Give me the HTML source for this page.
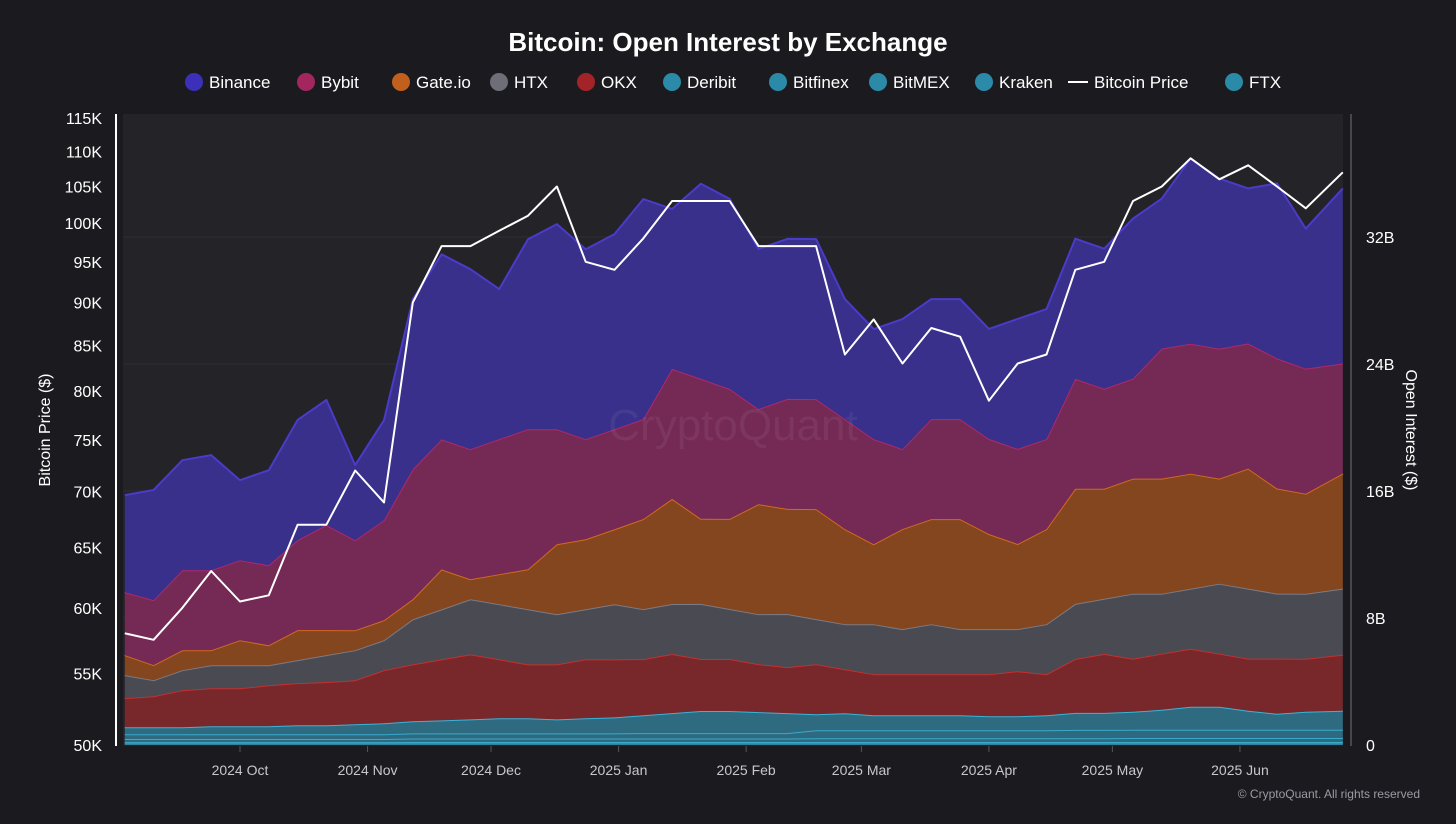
<!DOCTYPE html>
<html><head><meta charset="utf-8"><style>
html,body{margin:0;padding:0;background:#1b1b1f;}
body{width:1456px;height:819px;overflow:hidden;font-family:"Liberation Sans",sans-serif;}
svg text{font-family:"Liberation Sans",sans-serif;}
</style></head><body>
<svg id="chart" width="1456" height="819" viewBox="0 0 1456 819" xmlns="http://www.w3.org/2000/svg">
<rect width="1456" height="819" fill="#1b1b1f"/>
<text x="728" y="51" text-anchor="middle" fill="#fff" font-size="26" font-weight="bold">Bitcoin: Open Interest by Exchange</text>
<g id="legend"></g>
<rect x="123" y="114" width="1220" height="632" fill="#232328"/>
<g id="grid"></g>
<g id="areas"></g>
<g id="price"></g>
<g id="axes"></g>
<text x="733" y="440" text-anchor="middle" fill="#ffffff" fill-opacity="0.06" font-size="44">CryptoQuant</text>
<text transform="translate(50,430) rotate(-90)" text-anchor="middle" fill="#fff" font-size="16">Bitcoin Price ($)</text>
<text transform="translate(1406,430) rotate(90)" text-anchor="middle" fill="#fff" font-size="16">Open Interest ($)</text>
<text x="1420" y="798" text-anchor="end" fill="#9a9aa2" font-size="12">© CryptoQuant. All rights reserved</text>
</svg>
<script>
const dates=["2024-09-03","2024-09-10","2024-09-17","2024-09-24","2024-10-01","2024-10-08","2024-10-15","2024-10-22","2024-10-29","2024-11-05","2024-11-12","2024-11-19","2024-11-26","2024-12-03","2024-12-10","2024-12-17","2024-12-24","2024-12-31","2025-01-07","2025-01-14","2025-01-21","2025-01-28","2025-02-04","2025-02-11","2025-02-18","2025-02-25","2025-03-04","2025-03-11","2025-03-18","2025-03-25","2025-04-01","2025-04-08","2025-04-15","2025-04-22","2025-04-29","2025-05-06","2025-05-13","2025-05-20","2025-05-27","2025-06-03","2025-06-10","2025-06-17","2025-06-26"];
const ftx=[0.1,0.1,0.1,0.1,0.1,0.1,0.1,0.1,0.1,0.1,0.1,0.1,0.1,0.1,0.1,0.1,0.1,0.1,0.1,0.1,0.1,0.1,0.1,0.1,0.1,0.1,0.1,0.1,0.1,0.1,0.1,0.1,0.1,0.1,0.1,0.1,0.1,0.1,0.1,0.1,0.1,0.1,0.1];
const kraken=[0.08,0.08,0.08,0.08,0.08,0.08,0.08,0.08,0.08,0.08,0.09,0.09,0.09,0.09,0.09,0.09,0.09,0.09,0.09,0.09,0.09,0.09,0.09,0.09,0.09,0.09,0.09,0.09,0.09,0.09,0.09,0.09,0.09,0.09,0.09,0.09,0.09,0.09,0.09,0.09,0.09,0.09,0.09];
const bitmex=[0.2,0.2,0.2,0.2,0.2,0.2,0.2,0.2,0.2,0.2,0.22,0.22,0.22,0.22,0.22,0.22,0.22,0.22,0.22,0.22,0.22,0.22,0.22,0.22,0.24,0.24,0.24,0.24,0.24,0.24,0.24,0.24,0.24,0.24,0.24,0.25,0.25,0.25,0.25,0.25,0.25,0.25,0.25];
const bitfinex=[0.3,0.3,0.3,0.3,0.3,0.3,0.3,0.3,0.3,0.3,0.32,0.32,0.32,0.32,0.32,0.32,0.32,0.32,0.34,0.34,0.34,0.34,0.34,0.34,0.5,0.5,0.5,0.5,0.5,0.5,0.5,0.5,0.5,0.52,0.52,0.52,0.52,0.52,0.52,0.52,0.52,0.52,0.52];
const deribit=[0.44,0.44,0.44,0.5,0.5,0.5,0.57,0.57,0.63,0.69,0.76,0.82,0.88,0.95,0.95,0.88,0.95,1.01,1.13,1.26,1.39,1.39,1.32,1.26,1.01,1.07,0.95,0.95,0.95,0.95,0.88,0.88,0.95,1.07,1.07,1.13,1.26,1.45,1.45,1.2,1.01,1.13,1.2];
const okx=[1.83,1.95,2.33,2.39,2.39,2.58,2.65,2.71,2.77,3.34,3.59,3.84,4.1,3.72,3.4,3.47,3.72,3.65,3.53,3.72,3.28,3.28,3.02,2.9,3.15,2.77,2.58,2.58,2.58,2.58,2.65,2.84,2.58,3.4,3.72,3.34,3.53,3.65,3.34,3.28,3.47,3.34,3.53];
const htx=[1.45,1.01,1.26,1.45,1.45,1.26,1.45,1.7,1.89,1.89,2.84,3.15,3.47,3.47,3.47,3.15,3.15,3.47,3.15,3.15,3.47,3.15,3.15,3.34,2.84,2.84,3.15,2.84,3.15,2.84,2.84,2.65,3.15,3.47,3.47,4.1,3.78,3.78,4.41,4.41,4.1,4.1,4.16];
const gate=[1.26,0.95,1.26,0.95,1.58,1.26,1.89,1.58,1.26,1.26,1.26,2.52,1.26,1.89,2.52,4.41,4.41,4.73,5.67,6.62,5.36,5.67,6.93,6.62,6.93,5.99,5.04,6.3,6.62,6.93,5.99,5.36,5.99,7.25,6.93,7.25,7.25,7.25,6.62,7.56,6.62,6.3,7.25];
const bybit=[3.97,4.1,5.04,5.04,5.04,5.04,5.67,6.62,5.67,6.3,8.19,8.19,8.19,8.51,8.82,7.25,6.3,6.3,6.3,8.19,8.82,8.19,5.99,6.93,6.93,6.93,6.62,5.04,6.3,6.3,5.99,5.99,5.67,6.93,6.3,6.3,8.19,8.19,8.19,7.88,8.19,7.88,6.93];
const binance=[6.11,6.93,6.93,7.25,5.04,5.99,7.56,7.88,4.73,6.3,10.71,11.66,11.34,9.45,11.97,12.92,11.97,12.29,13.86,10.08,12.29,11.97,10.08,10.08,10.08,7.56,6.93,8.19,7.56,7.56,6.93,8.19,8.19,8.82,8.82,10.08,9.45,11.66,10.71,9.77,11.03,8.82,11.03];
const btcPrice=[58,57.5,60,63,60.5,61,67,67,72,69,90,97,97,99,101,105,95,94,98,103,103,103,97,97,97,84,88,83,87,86,79,83,84,94,95,103,105,109,106,108,105,102,107];
const leftTicks=[50,55,60,65,70,75,80,85,90,95,100,105,110,115];
const rightTicks=[0,8,16,24,32];
const xTicks=[["2024-10-01","2024 Oct"],["2024-11-01","2024 Nov"],["2024-12-01","2024 Dec"],["2025-01-01","2025 Jan"],["2025-02-01","2025 Feb"],["2025-03-01","2025 Mar"],["2025-04-01","2025 Apr"],["2025-05-01","2025 May"],["2025-06-01","2025 Jun"]];

const NS="http://www.w3.org/2000/svg";
const T0=Date.parse("2024-10-01");
function xS(d){return 240+(Date.parse(d)-T0)/86400000*4.115;}
function yOI(v){return 745-v/8*127;}
function yP(p){return 745-Math.log(p/50)/Math.log(115/50)*627;}
function mk(tag,attrs,parent){const e=document.createElementNS(NS,tag);for(const k in attrs)e.setAttribute(k,attrs[k]);parent.appendChild(e);return e;}

const grid=document.getElementById('grid');
rightTicks.forEach(t=>{if(t>0){const l=mk('line',{x1:123,x2:1343,y1:yOI(t),y2:yOI(t),stroke:'#2e2e34','stroke-width':1},grid);

}});

const series=[
 ["ftx",ftx,"#2d6a80","#3aa9cc"],["kraken",kraken,"#2d6a80","#3aa9cc"],["bitmex",bitmex,"#2d6a80","#3aa9cc"],["bitfinex",bitfinex,"#2d6a80","#3aa9cc"],["deribit",deribit,"#2e6a80","#3ab4d8"],
 ["okx",okx,"#78272b","#c5302f"],["htx",htx,"#4a4a53","#7b7b86"],["gate-io",gate,"#83461f","#d2691d"],["bybit",bybit,"#742a55","#b0286a"],["binance",binance,"#38308a","#4b3bc8"]];
const areas=document.getElementById('areas');
let base=dates.map(()=>0);
series.forEach(([name,vals,fill,line])=>{
 const top=vals.map((v,i)=>base[i]+v);
 const xs=dates.map(xS);
 let d="M"+xs.map((x,i)=>x.toFixed(1)+","+yOI(top[i]).toFixed(1)).join(" L");
 for(let i=xs.length-1;i>=0;i--)d+=" L"+xs[i].toFixed(1)+","+yOI(base[i]).toFixed(1);
 d+=" Z";
 const a=mk('path',{d:d,fill:fill,stroke:'none'},areas);
 
 
 const l=mk('polyline',{points:xs.map((x,i)=>x.toFixed(1)+","+yOI(top[i]).toFixed(1)).join(" "),fill:'none',stroke:line,'stroke-width':2,'stroke-linejoin':'round'},areas);
 
 
 base=top;
});

const pl=mk('polyline',{points:dates.map((d,i)=>xS(d).toFixed(1)+","+yP(btcPrice[i]).toFixed(1)).join(" "),fill:'none',stroke:'#ffffff','stroke-width':2,'stroke-linejoin':'round'},document.getElementById('price'));



const axes=document.getElementById('axes');
const la=mk('line',{x1:116,x2:116,y1:114,y2:746,stroke:'#ffffff','stroke-width':2},axes);


const ra=mk('line',{x1:1351,x2:1351,y1:114,y2:746,stroke:'#55555c','stroke-width':1.5},axes);


leftTicks.forEach(t=>{const e=mk('text',{x:102,y:yP(t)+6,'text-anchor':'end',fill:'#fff','font-size':16},axes);e.textContent=t+"K";

});
rightTicks.forEach(t=>{const e=mk('text',{x:1366,y:yOI(t)+6,'text-anchor':'start',fill:'#fff','font-size':16},axes);e.textContent=t===0?"0":t+"B";

});
xTicks.forEach(([d,lab])=>{const x=xS(d);
 const tk=mk('line',{x1:x,x2:x,y1:746,y2:752,stroke:'#55555c'},axes);
 
 
 const e=mk('text',{x:x,y:775,'text-anchor':'middle',fill:'#c8c8cc','font-size':14},axes);e.textContent=lab;
 
 });

const legendItems=[["Binance","#3c2fb8",186],["Bybit","#a3275e",298],["Gate.io","#c0601c",393],["HTX","#6e6e78",491],["OKX","#a32428",578],["Deribit","#2a8aa8",664],["Bitfinex","#2a8aa8",770],["BitMEX","#2a8aa8",870],["Kraken","#2a8aa8",976],["Bitcoin Price","line",1070],["FTX","#2a8aa8",1226]];
const lg=document.getElementById('legend');
legendItems.forEach(([lab,c,x])=>{
 const g=mk('g',{},lg);
 
 
 if(c==="line"){mk('line',{x1:x-2,x2:x+18,y1:82,y2:82,stroke:'#fff','stroke-width':2},g);}
 else mk('circle',{cx:x+8,cy:82,r:9,fill:c},g);
 const t=mk('text',{x:x+(c==="line"?24:23),y:88,fill:'#fff','font-size':17},g);t.textContent=lab;
});
</script>
</body></html>
